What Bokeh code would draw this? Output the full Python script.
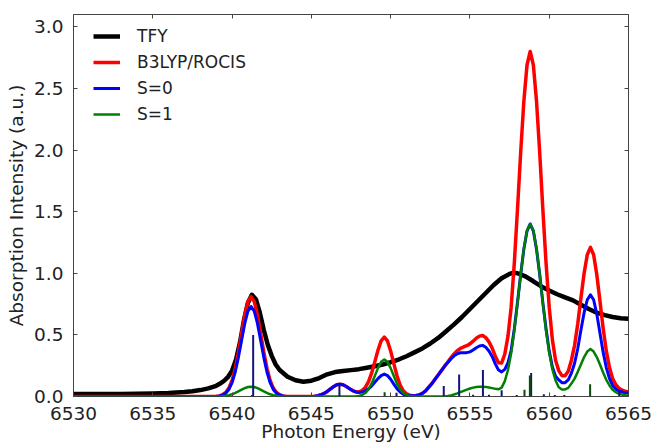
from bokeh.plotting import figure
from bokeh.models import Range1d, FixedTicker, LinearAxis, PrintfTickFormatter
from bokeh.embed import file_html
from bokeh.resources import INLINE

# ---------------- data ----------------
# Experimental TFY spectrum
tfy_e = [6530.0, 6531.0, 6532.0, 6533.0, 6534.0, 6535.0, 6536.0, 6537.0, 6537.5, 6538.0,
         6538.5, 6539.0, 6539.25, 6539.5, 6539.75, 6540.0, 6540.25, 6540.5, 6540.75, 6541.0,
         6541.25, 6541.5, 6541.75, 6542.0, 6542.25, 6542.5, 6542.75, 6543.0, 6543.5, 6544.0,
         6544.5, 6545.0, 6545.5, 6546.0, 6546.5, 6547.0, 6547.5, 6548.0, 6548.5, 6549.0,
         6549.5, 6550.0, 6550.5, 6551.0, 6551.5, 6552.0, 6552.5, 6553.0, 6553.5, 6554.0,
         6554.5, 6555.0, 6555.5, 6556.0, 6556.5, 6557.0, 6557.5, 6557.75, 6558.0, 6558.5,
         6559.0, 6559.5, 6560.0, 6560.5, 6561.0, 6561.5, 6562.0, 6562.5, 6563.0, 6563.5,
         6564.0, 6564.5, 6565.0]
tfy_i = [0.020, 0.020, 0.020, 0.021, 0.022, 0.024, 0.028, 0.036, 0.042, 0.052,
         0.066, 0.087, 0.105, 0.128, 0.160, 0.210, 0.300, 0.440, 0.620, 0.760,
         0.825, 0.790, 0.680, 0.540, 0.420, 0.330, 0.260, 0.215, 0.160, 0.132,
         0.120, 0.128, 0.150, 0.180, 0.198, 0.207, 0.214, 0.222, 0.233, 0.245,
         0.260, 0.278, 0.300, 0.327, 0.358, 0.390, 0.430, 0.475, 0.530, 0.585,
         0.645, 0.710, 0.775, 0.840, 0.905, 0.960, 0.995, 1.005, 1.000, 0.975,
         0.935, 0.893, 0.860, 0.830, 0.805, 0.780, 0.745, 0.710, 0.680, 0.660,
         0.645, 0.635, 0.630]

# Calculated spectra (sampled energies)
calc_e = [6530.0, 6532.0, 6534.0, 6536.0, 6538.0, 6538.6,
          6539.0, 6539.2, 6539.4, 6539.6, 6539.8,
          6540.0, 6540.2, 6540.4, 6540.6, 6540.8,
          6541.0, 6541.2, 6541.4, 6541.6, 6541.8,
          6542.0, 6542.2, 6542.4, 6542.6, 6542.8,
          6543.0, 6543.2, 6543.4, 6543.6, 6543.8,
          6544.0, 6544.2, 6544.4, 6544.6, 6544.8,
          6545.0, 6545.2, 6545.4, 6545.6, 6545.8,
          6546.0, 6546.2, 6546.4, 6546.6, 6546.8,
          6547.0, 6547.2, 6547.4, 6547.6, 6547.8,
          6548.0, 6548.2, 6548.4, 6548.6, 6548.8,
          6549.0, 6549.2, 6549.4, 6549.6, 6549.8,
          6550.0, 6550.2, 6550.4, 6550.6, 6550.8,
          6551.0, 6551.2, 6551.4, 6551.6, 6551.8,
          6552.0, 6552.2, 6552.4, 6552.6, 6552.8,
          6553.0, 6553.2, 6553.4, 6553.6, 6553.8,
          6554.0, 6554.2, 6554.4, 6554.6, 6554.8,
          6555.0, 6555.2, 6555.4, 6555.6, 6555.8,
          6556.0, 6556.2, 6556.4, 6556.6, 6556.8,
          6557.0, 6557.2, 6557.4, 6557.6, 6557.8,
          6558.0, 6558.2, 6558.4, 6558.6, 6558.8,
          6559.0, 6559.2, 6559.4, 6559.6, 6559.8,
          6560.0, 6560.2, 6560.4, 6560.6, 6560.8,
          6561.0, 6561.2, 6561.4, 6561.6, 6561.8,
          6562.0, 6562.2, 6562.4, 6562.6, 6562.8,
          6563.0, 6563.2, 6563.4, 6563.6, 6563.8,
          6564.0, 6564.2, 6564.4, 6564.6, 6564.8,
          6565.0]

rocis = [0, 0, 0, 0, 0, 0,
         0.002, 0.005, 0.014, 0.032, 0.068,
         0.130, 0.228, 0.360, 0.512, 0.661,
         0.770, 0.810, 0.770, 0.661, 0.512,
         0.360, 0.228, 0.130, 0.068, 0.032,
         0.014, 0.005, 0.002, 0.000, 0.000,
         0.000, 0.000, 0.000, 0.000, 0.000,
         0.001, 0.003, 0.007, 0.014, 0.025,
         0.041, 0.061, 0.080, 0.095, 0.100,
         0.095, 0.081, 0.064, 0.048, 0.038,
         0.037, 0.048, 0.074, 0.119, 0.189,
         0.281, 0.375, 0.451, 0.482, 0.451,
         0.370, 0.267, 0.168, 0.093, 0.046,
         0.022, 0.011, 0.007, 0.008, 0.013,
         0.025, 0.045, 0.075, 0.105, 0.140,
         0.175, 0.210, 0.246, 0.279, 0.314,
         0.346, 0.372, 0.390, 0.402, 0.412,
         0.427, 0.449, 0.473, 0.490, 0.495,
         0.478, 0.443, 0.393, 0.327, 0.273,
         0.272, 0.345, 0.490, 0.725, 1.085,
         1.520, 1.980, 2.395, 2.690, 2.800,
         2.690, 2.395, 1.980, 1.515, 1.085,
         0.725, 0.460, 0.295, 0.210, 0.169,
         0.169, 0.205, 0.295, 0.415, 0.590,
         0.800, 1.000, 1.150, 1.210, 1.150,
         0.990, 0.775, 0.555, 0.370, 0.235,
         0.145, 0.095, 0.067, 0.051, 0.042,
         0.037]

s0 = [0, 0, 0, 0, 0, 0,
      0.001, 0.004, 0.011, 0.026, 0.057,
      0.112, 0.199, 0.318, 0.457, 0.593,
      0.693, 0.730, 0.693, 0.593, 0.457,
      0.318, 0.199, 0.112, 0.057, 0.026,
      0.011, 0.004, 0.001, 0.000, 0.000,
      0.000, 0.000, 0.000, 0.000, 0.000,
      0.001, 0.003, 0.007, 0.014, 0.025,
      0.041, 0.061, 0.080, 0.095, 0.100,
      0.095, 0.081, 0.064, 0.048, 0.037,
      0.033, 0.036, 0.046, 0.062, 0.085,
      0.115, 0.145, 0.170, 0.182, 0.170,
      0.140, 0.101, 0.064, 0.036, 0.018,
      0.010, 0.007, 0.006, 0.008, 0.013,
      0.025, 0.045, 0.075, 0.105, 0.140,
      0.175, 0.210, 0.245, 0.275, 0.305,
      0.330, 0.347, 0.355, 0.356, 0.356,
      0.362, 0.377, 0.396, 0.410, 0.415,
      0.400, 0.370, 0.325, 0.265, 0.215,
      0.200, 0.220, 0.275, 0.375, 0.550,
      0.765, 0.990, 1.195, 1.343, 1.400,
      1.343, 1.195, 0.990, 0.760, 0.550,
      0.370, 0.240, 0.165, 0.135, 0.112,
      0.112, 0.135, 0.190, 0.270, 0.390,
      0.540, 0.680, 0.785, 0.825, 0.785,
      0.670, 0.515, 0.360, 0.235, 0.145,
      0.090, 0.060, 0.045, 0.036, 0.031,
      0.028]

s1 = [0, 0, 0, 0, 0, 0,
      0.001, 0.001, 0.003, 0.006, 0.011,
      0.018, 0.029, 0.042, 0.055, 0.068,
      0.077, 0.080, 0.077, 0.068, 0.055,
      0.042, 0.029, 0.018, 0.011, 0.006,
      0.003, 0.001, 0.001, 0.000, 0.000,
      0.000, 0.000, 0.000, 0.000, 0.000,
      0.000, 0.000, 0.000, 0.000, 0.000,
      0.000, 0.000, 0.000, 0.000, 0.000,
      0.000, 0.000, 0.000, 0.000, 0.001,
      0.004, 0.012, 0.028, 0.057, 0.104,
      0.166, 0.230, 0.281, 0.300, 0.281,
      0.230, 0.166, 0.104, 0.057, 0.028,
      0.012, 0.004, 0.001, 0.000, 0.000,
      0.000, 0.000, 0.000, 0.000, 0.000,
      0.000, 0.000, 0.001, 0.004, 0.009,
      0.016, 0.025, 0.035, 0.046, 0.056,
      0.065, 0.072, 0.077, 0.080, 0.080,
      0.078, 0.073, 0.068, 0.062, 0.058,
      0.072, 0.125, 0.215, 0.350, 0.535,
      0.755, 0.990, 1.200, 1.347, 1.400,
      1.347, 1.200, 0.990, 0.755, 0.535,
      0.355, 0.220, 0.130, 0.075, 0.057,
      0.057, 0.070, 0.105, 0.145, 0.200,
      0.260, 0.320, 0.365, 0.385, 0.365,
      0.320, 0.260, 0.195, 0.135, 0.090,
      0.055, 0.035, 0.022, 0.015, 0.011,
      0.009]

# Transition sticks
stick_s0_e = [6541.33, 6546.77, 6550.37, 6553.35, 6554.32, 6555.20, 6555.82, 6556.20,
              6557.00, 6557.95, 6558.86, 6559.66, 6560.35, 6560.95, 6564.42]
stick_s0_h = [0.500, 0.090, 0.030, 0.085, 0.178, 0.015, 0.215, 0.015,
              0.050, 0.012, 0.190, 0.018, 0.012, 0.012, 0.038]
stick_s1_e = [6541.25, 6549.62, 6558.44, 6558.78, 6562.58]
stick_s1_h = [0.012, 0.035, 0.055, 0.170, 0.100]

x_ticks = [6530, 6535, 6540, 6545, 6550, 6555, 6560, 6565]
y_ticks = [0.0, 0.5, 1.0, 1.5, 2.0, 2.5, 3.0]

# ---------------- figure ----------------
FONT = "DejaVu Sans"
p = figure(width=654, height=444, output_backend="svg", toolbar_location=None,
           x_range=Range1d(6530, 6565), y_range=Range1d(0, 3.1),
           min_border_left=73, min_border_right=26, min_border_top=14,
           min_border_bottom=48)
p.xgrid.visible = False
p.ygrid.visible = False
p.background_fill_color = "white"
p.border_fill_color = "white"
p.outline_line_color = "#444444"
p.outline_line_width = 1

p.line(tfy_e, tfy_i, color="black", line_width=4.5, line_join="round",
       legend_label="TFY")
p.line(calc_e, rocis, color="#ff0000", line_width=3.5, line_join="round",
       legend_label="B3LYP/ROCIS")
p.line(calc_e, s0, color="#0000ff", line_width=3, line_join="round",
       legend_label="S=0")
p.line(calc_e, s1, color="#008000", line_width=2.5, line_join="round",
       legend_label="S=1")

p.segment(x0=stick_s0_e, y0=[0] * len(stick_s0_e), x1=stick_s0_e, y1=stick_s0_h,
          color="#14147a", line_width=2)
p.segment(x0=stick_s1_e, y0=[0] * len(stick_s1_e), x1=stick_s1_e, y1=stick_s1_h,
          color="#0a4a0a", line_width=2)

def style_axis(ax, labels=True):
    ax.axis_line_color = None
    ax.major_tick_in = 4
    ax.major_tick_out = 0
    ax.major_tick_line_color = "#444444"
    ax.minor_tick_line_color = None
    if labels:
        ax.major_label_text_font = FONT
        ax.major_label_text_font_size = "18.5px"
        ax.major_label_text_color = "#222222"
        ax.major_label_standoff = 10
        ax.axis_label_text_font = FONT
        ax.axis_label_text_font_size = "18.5px"
        ax.axis_label_text_font_style = "normal"
        ax.axis_label_text_color = "#222222"
    else:
        ax.major_label_text_font_size = "10px"
        ax.major_label_text_color = None
        ax.major_label_standoff = 0

xa = p.xaxis[0]
xa.ticker = FixedTicker(ticks=x_ticks)
xa.axis_label = "Photon Energy (eV)"
style_axis(xa)
xa.axis_label_standoff = -2

ya = p.yaxis[0]
ya.ticker = FixedTicker(ticks=y_ticks)
ya.formatter = PrintfTickFormatter(format="%.1f")
ya.axis_label = "Absorption Intensity (a.u.)"
style_axis(ya)
ya.axis_label_standoff = 4

top = LinearAxis(ticker=FixedTicker(ticks=x_ticks))
style_axis(top, labels=False)
p.add_layout(top, "above")
right = LinearAxis(ticker=FixedTicker(ticks=y_ticks))
style_axis(right, labels=False)
p.add_layout(right, "right")

lg = p.legend[0]
lg.location = (20, 272)
lg.border_line_color = None
lg.background_fill_alpha = 0
lg.padding = 0
lg.margin = 0
lg.spacing = 6
lg.glyph_width = 27
lg.glyph_height = 20
lg.label_height = 20
lg.label_standoff = 17
lg.label_text_font = FONT
lg.label_text_font_size = "17px"
lg.label_text_color = "#222222"

open("out.html", "w").write(file_html(p, INLINE))
